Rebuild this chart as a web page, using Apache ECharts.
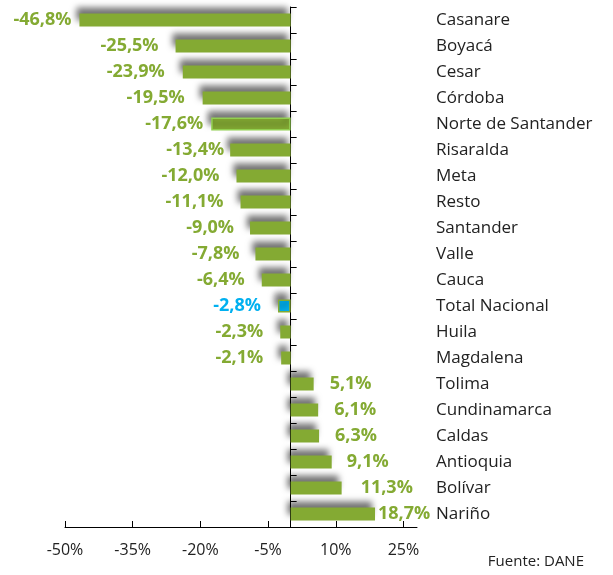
<!DOCTYPE html>
<html>
<head>
<meta charset="utf-8">
<script src="https://cdn.jsdelivr.net/npm/echarts@6/dist/echarts.min.js"></script>
<style>
  html, body { margin: 0; padding: 0; background: #fff; }
  #chart { width: 613px; height: 575px; }
</style>
</head>
<body>
<div id="chart"></div>
<script>
var departamentos = ['Casanare', 'Boyacá', 'Cesar', 'Córdoba', 'Norte de Santander', 'Risaralda',
  'Meta', 'Resto', 'Santander', 'Valle', 'Cauca', 'Total Nacional', 'Huila', 'Magdalena',
  'Tolima', 'Cundinamarca', 'Caldas', 'Antioquia', 'Bolívar', 'Nariño'];
var variacion = [-46.8, -25.5, -23.9, -19.5, -17.6, -13.4, -12.0, -11.1, -9.0, -7.8, -6.4,
  -2.8, -2.3, -2.1, 5.1, 6.1, 6.3, 9.1, 11.3, 18.7];
var ticksX = [-50, -35, -20, -5, 10, 25];

// separación de cada etiqueta respecto a su barra (en el original se movieron a mano)
var separacion = [8, 17, 18, 18, 8, 6, 17, 17, 16, 16, 17, 17, 17, 18, 16, 16, 16, 15, 19, 3];

var verde = '#84aa33';
var azul = '#00b0f0';
var fuente = '"Open Sans", "Noto Sans", sans-serif';

function fmt(v) {
  return v.toFixed(1).replace('.', ',') + '%';
}

var chart = echarts.init(document.getElementById('chart'));

var datos = variacion.map(function (v, i) {
  var nombre = departamentos[i];
  var estilo = {};
  if (nombre === 'Total Nacional') estilo = { color: azul, borderColor: verde, borderWidth: 1.5 };
  if (nombre === 'Norte de Santander') estilo = { borderColor: '#92d050', borderWidth: 1.5 };
  return {
    value: v,
    itemStyle: estilo,
    label: {
      position: v < 0 ? 'left' : 'right',
      distance: separacion[i],
      color: nombre === 'Total Nacional' ? azul : verde
    }
  };
});

var option = {
  animation: false,
  title: {
    text: 'Fuente: DANE',
    right: 24,
    bottom: 1,
    textStyle: { fontFamily: fuente, fontSize: 15, fontWeight: 'normal', color: '#222' }
  },
  grid: { left: 65, right: 196, top: 7, bottom: 48 },
  xAxis: {
    type: 'value',
    min: -50,
    max: 28,
    splitLine: { show: false },
    axisLine: { show: true, lineStyle: { color: '#000', width: 1 } },
    axisTick: { show: true, inside: true, length: 6, lineStyle: { color: '#000' }, customValues: ticksX },
    axisLabel: {
      customValues: ticksX,
      margin: 15,
      fontFamily: fuente,
      fontSize: 16,
      color: '#222',
      formatter: function (v) { return v + '%'; }
    }
  },
  yAxis: [
    {
      type: 'category',
      data: departamentos,
      inverse: true,
      axisLine: { onZero: true, lineStyle: { color: '#000', width: 1 } },
      axisTick: { show: true, inside: true, length: 6, lineStyle: { color: '#000' } },
      axisLabel: { show: false }
    },
    {
      type: 'category',
      data: departamentos,
      inverse: true,
      position: 'right',
      axisLine: { show: false, onZero: false },
      axisTick: { show: false },
      axisLabel: { margin: 19, fontFamily: fuente, fontSize: 17, color: '#222' }
    }
  ],
  series: [
    {
      type: 'bar',
      data: datos,
      barWidth: 13,
      itemStyle: {
        color: verde,
        shadowColor: 'rgba(0,0,0,0.55)',
        shadowBlur: 6,
        shadowOffsetX: -3,
        shadowOffsetY: -6
      },
      label: {
        show: true,
        fontFamily: fuente,
        fontSize: 18,
        fontWeight: 'bold',
        formatter: function (p) { return fmt(p.value); }
      }
    }
  ]
};

chart.setOption(option);
</script>
</body>
</html>
